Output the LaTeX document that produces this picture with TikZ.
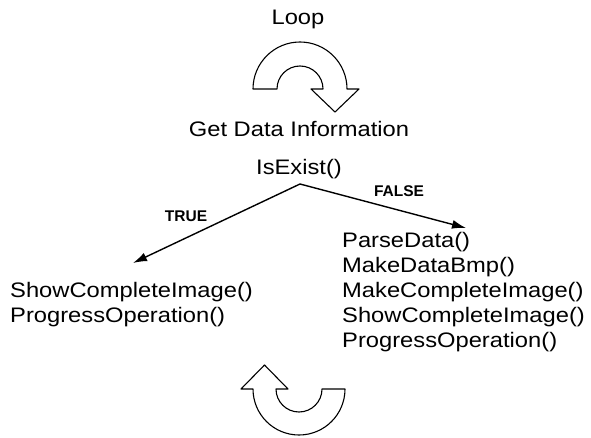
\documentclass[tikz,border=0pt]{standalone}
\usepackage{fontspec}
\setmainfont[FakeStretch=1.13]{Liberation Sans}
\newfontfamily\tagfont{Liberation Sans}
\usetikzlibrary{arrows.meta, positioning}
\tikzset{
    txtNode/.style={inner sep=0pt, anchor=base, font=\fontsize{21}{25}\selectfont},
    listNode/.style={txtNode, anchor=base west},
    tagNode/.style={inner sep=0pt, font=\tagfont\bfseries\fontsize{15.5}{18}\selectfont},
    flowEdge/.style={-{Latex[length=14pt, width=9pt]}, line width=1.4pt},
    turnArrow/.style={draw, fill=white, line width=1.1pt, line join=round},
}

\begin{document}
\begin{tikzpicture}[x=1pt, y=1pt]
        \useasboundingbox (0,0) rectangle (591,437);

        \node[txtNode] (loop) at (298,412) {Loop};
        \node[txtNode] (getInfo) at (299,300) {Get Data Information};
        \node[txtNode] (isExist) at (299,262) {IsExist()};

        % loop arrow, top
        \draw[turnArrow] (253,348) arc[start angle=180, end angle=0, radius=47pt]
            -- (359,348) -- (335,325) -- (311,348) -- (323,348)
            arc[start angle=0, end angle=180, radius=23pt] -- cycle;

        % branches
        \coordinate (apex) at (300,253);
        \coordinate (trueTip) at (133,174);
        \coordinate (falseTip) at (466,209);
        \draw[flowEdge] (apex) -- (trueTip);
        \draw[flowEdge] (apex) -- (falseTip);
        \node[tagNode] (trueTag) at (186,220.5) {TRUE};
        \node[tagNode] (falseTag) at (399,246) {FALSE};

        \foreach \txt [count=\i] in {ShowCompleteImage(), ProgressOperation()}
            \node[listNode] (tru\i) at (10,165-25*\i) {\txt};
        \foreach \txt [count=\i] in {ParseData(), MakeDataBmp(), MakeCompleteImage(),
                ShowCompleteImage(), ProgressOperation()}
            \node[listNode] (fls\i) at (342,215-25*\i) {\txt};

        % back arrow, bottom
        \draw[turnArrow] (345,48) arc[start angle=0, end angle=-180, radius=46pt]
            -- (241,48) -- (264.5,72) -- (288,48) -- (276,48)
            arc[start angle=180, end angle=360, radius=23pt] -- cycle;

    \end{tikzpicture}
\end{document}
